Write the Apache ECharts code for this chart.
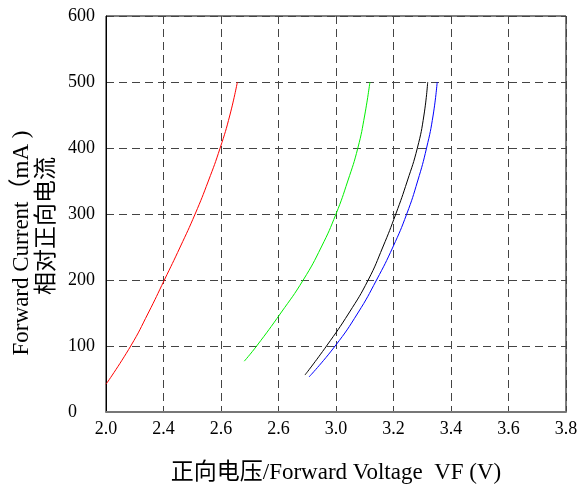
<!DOCTYPE html>
<html>
<head>
<meta charset="utf-8">
<script src="https://cdn.jsdelivr.net/npm/echarts@6/dist/echarts.min.js"></script>
<style>
  html, body { margin: 0; padding: 0; background: #fff; overflow: hidden; }
  #chart { width: 579px; height: 485px; }
</style>
</head>
<body>
<div id="chart"></div>
<script>
// tick labels as printed on the original (two of them are misprinted)
const xTickLabels = ["2.0", "2.4", "2.6", "2.6", "3.0", "3.2", "3.4", "3.6", "3.8"];

// [voltage, current mA]
const redCurve = [[2.200, 42], [2.286, 100], [2.347, 150], [2.403, 200], [2.458, 250], [2.510, 300], [2.556, 350], [2.597, 400], [2.631, 450], [2.657, 500]];
const greenCurve = [[2.681, 77], [2.724, 100], [2.808, 150], [2.886, 200], [2.949, 250], [3.000, 300], [3.041, 350], [3.076, 400], [3.100, 450], [3.118, 500]];
const blackCurve = [[2.892, 56], [2.967, 100], [3.045, 150], [3.112, 200], [3.163, 250], [3.208, 300], [3.248, 350], [3.283, 400], [3.306, 450], [3.319, 500]];
const blueCurve = [[2.906, 53], [2.997, 100], [3.076, 150], [3.141, 200], [3.198, 250], [3.246, 300], [3.284, 350], [3.315, 400], [3.338, 450], [3.352, 500]];

const FONT = "'Liberation Serif', 'Times New Roman', 'Noto Sans CJK SC', serif";

const chart = echarts.init(document.getElementById("chart"));

function curve(data, color) {
  return {
    type: "line",
    data: data,
    smooth: 0.5,
    showSymbol: false,
    lineStyle: { color: color, width: 1 },
    itemStyle: { color: color },
    silent: true
  };
}

const option = {
  backgroundColor: "#fff",
  animation: false,
  grid: {
    left: 106,
    width: 460,
    top: 16,
    height: 396,
    show: true,
    borderColor: "#000",
    borderWidth: 1,
    containLabel: false,
    outerBoundsMode: "none"
  },
  xAxis: {
    type: "value",
    min: 2.2,
    max: 3.8,
    interval: 0.2,
    name: "正向电压/Forward Voltage  VF (V)",
    nameLocation: "middle",
    nameGap: 49,
    nameTextStyle: { fontFamily: FONT, fontSize: 23, color: "#000" },
    axisLine: { show: true, lineStyle: { color: "#777", width: 2 } },
    axisTick: { show: false },
    axisLabel: {
      fontFamily: FONT,
      fontSize: 18,
      color: "#000",
      margin: 8,
      formatter: function (v) {
        return xTickLabels[Math.round((v - 2.2) / 0.2)];
      }
    },
    splitLine: { show: true, lineStyle: { color: "#444", type: [8, 5], width: 1 } }
  },
  yAxis: {
    type: "value",
    min: 0,
    max: 600,
    interval: 100,
    axisLine: { show: true, lineStyle: { color: "#000", width: 1 } },
    axisTick: { show: false },
    axisLabel: {
      fontFamily: FONT,
      fontSize: 18,
      color: "#000",
      align: "left",
      margin: 38
    },
    splitLine: { show: true, lineStyle: { color: "#444", type: [8, 5], width: 1 } }
  },
  graphic: [
    {
      type: "text",
      x: 22,
      y: 243,
      rotation: Math.PI / 2,
      style: {
        text: "Forward Current（mA )",
        font: "23px " + FONT,
        fill: "#000",
        textAlign: "center",
        textVerticalAlign: "middle"
      }
    },
    {
      type: "text",
      x: 47,
      y: 226,
      rotation: Math.PI / 2,
      style: {
        text: "相对正向电流",
        font: "23px " + FONT,
        fill: "#000",
        textAlign: "center",
        textVerticalAlign: "middle"
      }
    }
  ],
  series: [
    curve(redCurve, "#ff0000"),
    curve(greenCurve, "#00f000"),
    curve(blackCurve, "#000000"),
    curve(blueCurve, "#0000ff")
  ]
};

chart.setOption(option);
</script>
</body>
</html>
